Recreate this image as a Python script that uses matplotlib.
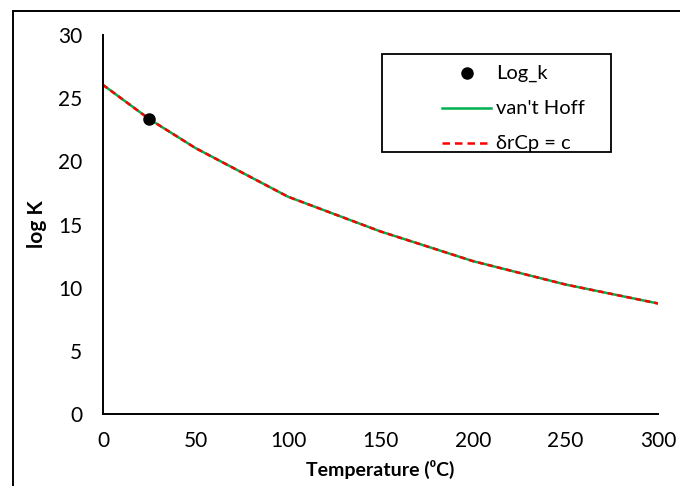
import matplotlib
matplotlib.use("Agg")
import matplotlib.pyplot as plt
from matplotlib.lines import Line2D
from matplotlib.patches import Rectangle

plt.rcParams["font.family"] = ["Lato", "DejaVu Sans"]

# measured point
t_meas = [25]
logk_meas = [23.35]

# fitted curves (van't Hoff and constant heat capacity give the same values)
temps = [0, 25, 50, 100, 150, 200, 250, 300]
logk_vh = [26.05, 23.35, 21.05, 17.2, 14.45, 12.1, 10.25, 8.75]
logk_cp = [26.05, 23.35, 21.05, 17.2, 14.45, 12.1, 10.25, 8.75]

W, H = 680, 486
fig = plt.figure(figsize=(W / 100, H / 100), dpi=100)
ax = fig.add_axes([103 / W, 1 - 414 / H, 555 / W, 379 / H])

ax.plot(t_meas, logk_meas, "o", color="black", ms=8, label="Log_k", zorder=5)
ax.plot(temps, logk_vh, "-", color="#00B050", lw=1.8, label="van't Hoff")
ax.plot(temps, logk_cp, "--", color="#FF0000", lw=1.8, dashes=(2.2, 1.6),
        label="δrCp = c")

ax.set_xlim(0, 300)
ax.set_ylim(0, 30)
ax.set_xticks(range(0, 301, 50))
ax.set_yticks(range(0, 31, 5))
ax.tick_params(length=0, labelsize=15)
ax.tick_params(axis="y", pad=15)
ax.tick_params(axis="x", pad=12)
for s in ["top", "right"]:
    ax.spines[s].set_visible(False)
for s in ["left", "bottom"]:
    ax.spines[s].set_linewidth(1.4)
    ax.spines[s].set_color("black")

ax.set_xlabel("Temperature (⁰C)", fontsize=14, fontweight="bold", labelpad=7)
ax.set_ylabel("log K", fontsize=15, fontweight="bold", labelpad=8)


def fx(px):
    return px / W


def fy(py):
    return 1 - py / H


# legend box drawn by hand, handles copied from the plotted lines
fig.patches.append(Rectangle((fx(382), fy(152)), fx(611) - fx(382),
                             fy(54) - fy(152), transform=fig.transFigure,
                             facecolor="white", edgecolor="black", lw=1.3,
                             zorder=10))
rows = [73, 108, 143]
for line, y in zip(ax.get_lines(), rows):
    if line.get_marker() == "o":
        h = Line2D([fx(467)], [fy(y)], marker="o", ls="none",
                   color="black", ms=8, transform=fig.transFigure)
    else:
        h = Line2D([fx(442), fx(491)], [fy(y), fy(y)],
                   color=line.get_color(), lw=1.8, ls=line.get_linestyle(),
                   transform=fig.transFigure)
        if line.get_linestyle() == "--":
            h.set_dashes((3, 2))
    h.set_zorder(11)
    fig.lines.append(h)
    fig.text(fx(496), fy(y), line.get_label(), fontsize=14.5,
             va="center", ha="left", zorder=11)

# outer chart frame
fig.patches.append(Rectangle((13 / W, -0.1), 1.0, 1.1 - 11 / H,
                             transform=fig.transFigure, fill=False,
                             edgecolor="black", lw=1.4))

fig.savefig("out.png", dpi=100)
